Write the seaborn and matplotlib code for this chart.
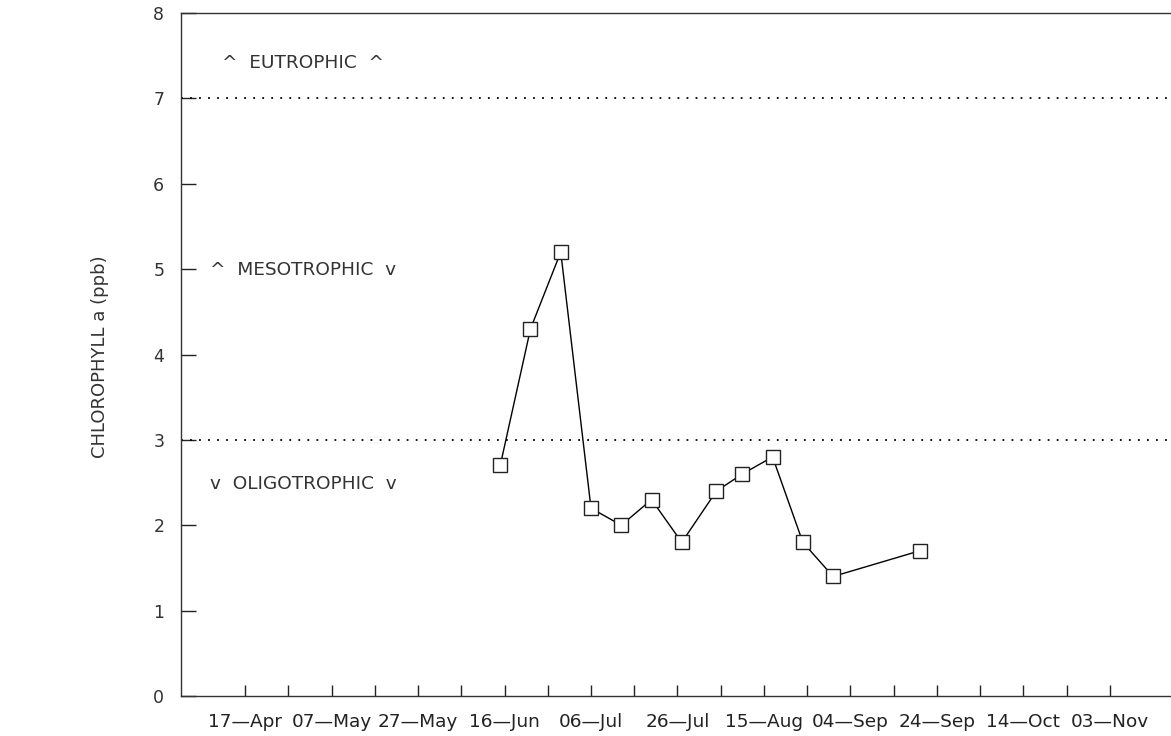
import matplotlib
matplotlib.use("Agg")
import matplotlib.pyplot as plt
import seaborn as sns
import pandas as pd
import numpy as np

# ---- data ----
sample_dates = ["1990-06-15", "1990-06-22", "1990-06-29", "1990-07-06", "1990-07-13",
                "1990-07-20", "1990-07-27", "1990-08-04", "1990-08-10", "1990-08-17",
                "1990-08-24", "1990-08-31", "1990-09-20"]
chlorophyll = [2.7, 4.3, 5.2, 2.2, 2.0, 2.3, 1.8, 2.4, 2.6, 2.8, 1.8, 1.4, 1.7]
tick_labels = ["17—Apr", "07—May", "27—May", "16—Jun", "06—Jul", "26—Jul",
               "15—Aug", "04—Sep", "24—Sep", "14—Oct", "03—Nov"]
thresholds = [3, 7]
zone_labels = ["^  EUTROPHIC  ^", "^  MESOTROPHIC  v", "v  OLIGOTROPHIC  v"]
zone_label_y = [7.42, 4.99, 2.48]
zone_label_x = ["1990-04-11 16:00", "1990-04-08 22:00", "1990-04-08 22:00"]
y_ticks = [0, 1, 2, 3, 4, 5, 6, 7, 8]

df = pd.DataFrame({"date": pd.to_datetime(sample_dates), "chl": chlorophyll})

sns.set_style("white")
plt.rcParams["font.family"] = ["DejaVu Sans"]

W, H = 1171, 736
fig = plt.figure(figsize=(W / 100, H / 100), dpi=100)
ax = fig.add_axes([181 / W, (H - 696) / H, (W - 181) / W + 0.002, (696 - 13) / H])

sns.lineplot(data=df, x="date", y="chl", ax=ax, color="black", linewidth=1.0,
             marker="s", markersize=9.5, markerfacecolor="white",
             markeredgecolor="#222222", markeredgewidth=1.0)

for t in thresholds:
    ax.axhline(t, color="black", linestyle=(0, (1, 4)), linewidth=1.3)

x0 = pd.Timestamp("1990-04-17")
ax.set_xlim(x0 - pd.Timedelta(days=14.84), x0 + pd.Timedelta(days=214.7))
ax.set_ylim(0, 8)

ticks = pd.date_range("1990-04-17", "1990-11-03", freq="10D")
labels = []
for i in range(len(ticks)):
    labels.append(tick_labels[i // 2] if i % 2 == 0 else "")
ax.set_xticks(ticks)
ax.set_xticklabels(labels, fontsize=13.3, color="#222222")
ax.set_yticks(y_ticks)
ax.set_yticklabels([str(v) for v in y_ticks], fontsize=12.5, color="#333333")

ax.tick_params(axis="x", bottom=True, direction="in", length=8, width=1,
               color="#222222", pad=12)
ax.tick_params(axis="y", left=True, direction="in", length=11, width=1,
               color="#222222", pad=12)

for s in ["left", "bottom", "top"]:
    ax.spines[s].set_color("#333333")
    ax.spines[s].set_linewidth(1.0)
ax.spines["right"].set_visible(False)

for lab, yy, xx in zip(zone_labels, zone_label_y, zone_label_x):
    ax.text(pd.Timestamp(xx), yy, lab, fontsize=13.3, color="#333333",
            va="center", ha="left")

ax.set_xlabel("")
ax.set_ylabel("")
fig.text(100 / W, 1 - 357 / H, "CHLOROPHYLL a (ppb)", rotation=90, fontsize=13,
         color="#333333", ha="center", va="center")

fig.savefig("out.png", dpi=100, facecolor="white")
